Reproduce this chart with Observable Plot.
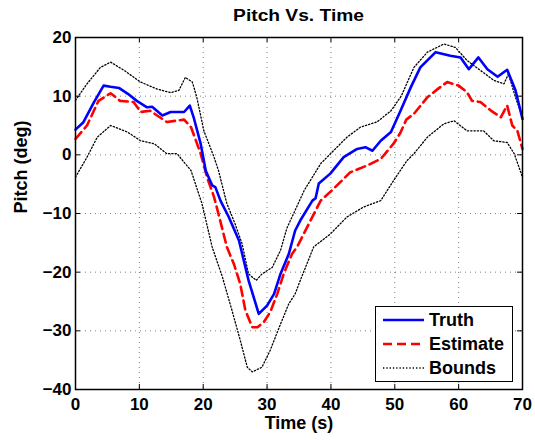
<!DOCTYPE html>
<html>
<head>
<meta charset="utf-8">
<script src="https://cdn.jsdelivr.net/npm/d3@7"></script>
<script src="https://cdn.jsdelivr.net/npm/@observablehq/plot@0.6"></script>
<style>
  body { margin: 0; background: white; font-family: 'Liberation Sans', Arial, sans-serif; }
  #wrap { position: relative; width: 535px; height: 440px; }
  #title { height: 28px; line-height: 32px; padding-left: 62px; text-align: center; font-weight: bold; font-size: 16px; white-space: nowrap; }
  #title span { display: inline-block; transform: scaleX(1.2); }
  #legend { position: absolute; left: 375px; top: 306px; }
</style>
</head>
<body>
<div id="wrap">
  <div id="title"><span>Pitch Vs. Time</span></div>
  <div id="chart"></div>
  <div id="legend"></div>
</div>
<script>
const xTicks = [0, 10, 20, 30, 40, 50, 60, 70];
const yTicks = [-40, -30, -20, -10, 0, 10, 20];

const truthT = [0, 1.2, 2.9, 4.4, 5.5, 6.8, 8.2, 9.6, 11.2, 12, 13.6, 14.9, 17, 17.9, 18.5, 19.6, 20.4, 21.4, 21.9, 22.7, 24, 25.6, 27.1, 28.7, 30, 31.1, 32.1, 33.4, 34.4, 35.2, 37.1, 37.6, 38.1, 39.9, 42, 44.1, 45.4, 46.5, 47.8, 49.4, 50.9, 52.5, 54, 56.4, 58.7, 60.3, 61.6, 63.1, 64.5, 66.1, 67.6, 68.9, 70];
const truthV = [4.3, 5.5, 9.0, 11.8, 11.6, 11.4, 10.4, 9.2, 8.1, 8.2, 6.7, 7.3, 7.3, 8.4, 6.4, 1.9, -2.7, -5.2, -5.5, -7.8, -10.6, -14.6, -21.4, -27.1, -25.7, -23.7, -20.3, -16.9, -12.9, -11.2, -7.8, -7.4, -4.9, -3.2, -0.4, 1.0, 1.3, 0.7, 2.4, 3.9, 7.5, 11.5, 14.9, 17.5, 16.9, 16.6, 14.6, 16.6, 14.6, 13.3, 14.5, 11.0, 6.1];

const estT = [0, 1.8, 3.6, 5.5, 7.0, 9.1, 10.2, 11.7, 14.3, 17, 18.1, 19.6, 20.6, 21.7, 22.4, 23.7, 24.8, 25.8, 26.6, 27.7, 28.5, 29.5, 30.5, 31.6, 32.6, 33.9, 34.7, 36.8, 38.4, 40.4, 43, 45.7, 47.8, 49.8, 50.9, 51.8, 53, 55.1, 56.7, 58.2, 60, 61.3, 62.1, 63.4, 65.1, 66.6, 67.6, 68.4, 69.2, 70];
const estV = [2.7, 5.0, 9.2, 10.5, 9.2, 9.0, 7.3, 7.5, 5.6, 6.0, 4.7, 0.2, -3.8, -7.2, -10.1, -15.7, -18.6, -22, -26.5, -29.4, -29.4, -28.5, -26.8, -23.7, -20.3, -16.9, -15.7, -11.2, -7.8, -5.8, -3.0, -1.8, -0.7, 1.9, 3.8, 6.0, 7.0, 9.8, 11.2, 12.4, 11.8, 10.7, 9.2, 9.0, 7.5, 6.4, 8.4, 5.0, 4.1, 1.0];

const upperT = [0, 1.8, 3.9, 5.5, 7.6, 10.2, 12.8, 14.9, 16.2, 17.2, 18.3, 19.0, 20.1, 21.7, 22.4, 23.7, 25, 26.1, 27.1, 28.3, 29.2, 30.8, 32.1, 33.1, 33.9, 35.8, 38.4, 40.4, 42.5, 44.6, 47.2, 49.4, 51, 53, 55.1, 57.7, 59.5, 61.3, 63.4, 65.5, 67.1, 67.8, 68.9, 70];
const upperV = [9.3, 12.1, 14.9, 15.8, 14.4, 12.4, 11.2, 10.6, 11.0, 13.2, 12.4, 9.8, 4.1, -0.4, -2.7, -8.3, -11.8, -15.2, -20.3, -21.4, -20.3, -19.2, -16.3, -12.5, -10.6, -6.1, -1.5, 0.7, 3.0, 4.7, 5.6, 7.5, 10.0, 14.9, 17.5, 18.9, 18.3, 16.1, 14.4, 12.7, 12.1, 13.8, 9.8, 6.4];

const lowerT = [0, 1.8, 3.4, 5.5, 8.1, 10.2, 12.3, 14.3, 15.9, 18.1, 19.8, 21.4, 23, 24.5, 25.8, 26.9, 27.7, 29.2, 30.5, 31.9, 33.4, 34.4, 35.2, 37.3, 39.9, 42.5, 45.1, 47.8, 49.8, 51.9, 53, 55.1, 57.7, 59.3, 61.3, 63.9, 65.5, 67.6, 68.7, 70];
const lowerV = [-3.8, -0.4, 3.0, 5.0, 3.9, 2.4, 1.9, 0.2, 0.2, -2.7, -8.3, -15.7, -20.8, -26.5, -31.6, -36.2, -37.0, -36.2, -33.3, -29.4, -25.4, -23.7, -21.4, -15.7, -13.5, -10.6, -8.9, -7.8, -4.4, -1.0, 0.2, 3.0, 5.3, 5.8, 4.1, 4.1, 2.4, 2.1, 0.2, -3.8];

const seriesNames = ["Truth", "Estimate", "Bounds"];

const toRows = (ts, vs) => ts.map((t, i) => ({t, v: vs[i]}));
const truth = toRows(truthT, truthV);
const est = toRows(estT, estV);
const upper = toRows(upperT, upperV);
const lower = toRows(lowerT, lowerV);

const W = 535, H = 412;
const mT = 9, mB = 51, mL = 75, mR = 13;
const plotH = H - mT - mB, plotW = W - mL - mR;
const tickLen = 5;

const gridStyle = {stroke: "#000", strokeOpacity: 0.5, strokeDasharray: "1,4"};
const boundStyle = {x: "t", y: "v", stroke: "black", strokeWidth: 1.3, strokeDasharray: "1.3,2"};

const chart = Plot.plot({
  width: W, height: H,
  marginTop: mT, marginBottom: mB, marginLeft: mL, marginRight: mR,
  style: {fontFamily: "'Liberation Sans', Arial, sans-serif", fontWeight: "bold", fontSize: "17px", color: "black", background: "white", overflow: "visible"},
  x: {domain: [0, 70], ticks: xTicks, tickSize: 0, tickPadding: 8, label: null},
  y: {domain: [-40, 20], ticks: yTicks, tickSize: 0, tickPadding: 4, label: null},
  marks: [
    Plot.ruleX(xTicks, gridStyle),
    Plot.ruleY(yTicks, gridStyle),
    Plot.line(upper, boundStyle),
    Plot.line(lower, boundStyle),
    Plot.line(est, {x: "t", y: "v", stroke: "#ff0000", strokeWidth: 2.6, strokeDasharray: "9,5"}),
    Plot.line(truth, {x: "t", y: "v", stroke: "#0000ff", strokeWidth: 2.6}),
    Plot.tickX(xTicks, {x: d => d, insetTop: plotH - tickLen, stroke: "black", strokeWidth: 1}),
    Plot.tickX(xTicks, {x: d => d, insetBottom: plotH - tickLen, stroke: "black", strokeWidth: 1}),
    Plot.tickY(yTicks, {y: d => d, insetRight: plotW - tickLen, stroke: "black", strokeWidth: 1}),
    Plot.tickY(yTicks, {y: d => d, insetLeft: plotW - tickLen, stroke: "black", strokeWidth: 1}),
    Plot.frame({stroke: "black", strokeWidth: 1.5}),
    Plot.text(["Time (s)"], {frameAnchor: "bottom", dy: 39, fontSize: 18, fontWeight: "bold", fill: "black"}),
    Plot.text(["Pitch (deg)"], {frameAnchor: "left", dx: -54, rotate: -90, fontSize: 18, fontWeight: "bold", fill: "black"})
  ]
});
document.getElementById("chart").appendChild(chart);

// Legend (inside plot area, lower right), built from the series names
const lg = d3.select("#legend").append("svg").attr("width", 139).attr("height", 77);
lg.append("rect").attr("x", 0.5).attr("y", 0.5).attr("width", 137).attr("height", 75)
  .attr("fill", "white").attr("stroke", "black").attr("stroke-width", 1);
const lineStyles = [
  {stroke: "#0000ff", width: 2.6, dash: null},
  {stroke: "#ff0000", width: 2.6, dash: "9,5"},
  {stroke: "black", width: 1.3, dash: "1.3,2"}
];
seriesNames.forEach((name, i) => {
  const cy = 14 + i * 24;
  const s = lineStyles[i];
  const ln = lg.append("line").attr("x1", 8).attr("x2", 49).attr("y1", cy).attr("y2", cy)
    .attr("stroke", s.stroke).attr("stroke-width", s.width);
  if (s.dash) ln.attr("stroke-dasharray", s.dash);
  lg.append("text").attr("x", 54).attr("y", cy).attr("dy", "0.35em")
    .attr("font-family", "'Liberation Sans', Arial, sans-serif").attr("font-weight", "bold")
    .attr("font-size", 18).attr("fill", "black").text(name);
});
</script>
</body>
</html>
